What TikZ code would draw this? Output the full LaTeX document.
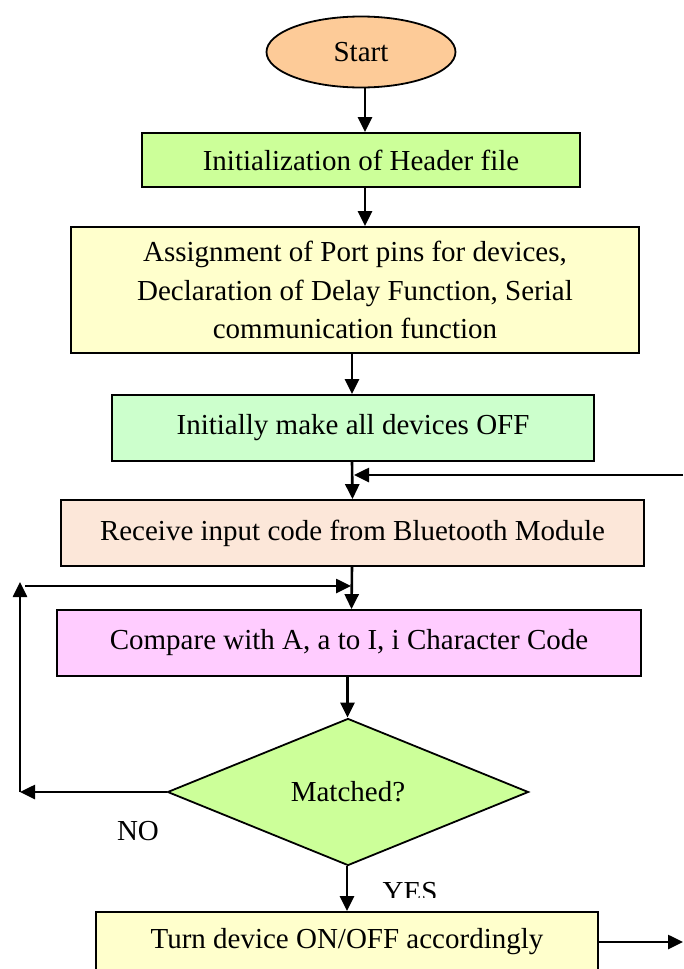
\documentclass[tikz,border=0pt]{standalone}
\usepackage{fontspec}
\setmainfont{Liberation Serif}
\usetikzlibrary{shapes.geometric,arrows.meta}
\definecolor{cstart}{HTML}{FDCB98}
\definecolor{cgreen}{HTML}{CCFF99}
\definecolor{cyellow}{HTML}{FFFFCC}
\definecolor{cmint}{HTML}{CCFFCC}
\definecolor{cpeach}{HTML}{FCE7D9}
\definecolor{cpink}{HTML}{FFCCFF}
\begin{document}
\begin{tikzpicture}[x=1pt,y=-1pt,
  txt/.style={font=\fontsize{29}{38.5}\selectfont},
  box/.style={draw, line width=1.8pt, rectangle, align=center, inner sep=0pt, txt},
  arr/.style={line width=2.6pt, -{Triangle[length=15pt,width=14pt]}},
  ln/.style={line width=2.6pt}]
\useasboundingbox (0,0) rectangle (683,969);
\clip (0,0) rectangle (683,969);

\node[draw, line width=1.8pt, ellipse, fill=cstart, minimum width=189pt, minimum height=71pt, inner sep=0pt, txt] (start) at (361,52) {Start};
\node[box, fill=cgreen, minimum width=438pt, minimum height=54pt] (b1) at (361,160) {Initialization of Header file};
\node[box, fill=cyellow, minimum width=568pt, minimum height=126pt] (b2) at (355,290) {Assignment of Port pins for devices,\\Declaration of Delay Function, Serial\\communication function};
\node[box, fill=cmint, minimum width=482pt, minimum height=66pt] (b3) at (353,428) {Initially make all devices OFF};
\node[box, fill=cpeach, minimum width=583pt, minimum height=66pt] (b4) at (352.5,533) {Receive input code from Bluetooth Module};
\node[box, fill=cpink, minimum width=584pt, minimum height=66pt] (b5) at (349,643) {Compare with A, a to I, i Character Code};
\node[draw, line width=1.8pt, diamond, fill=cgreen, minimum width=361pt, minimum height=147pt, inner sep=0pt, txt] (dec) at (348,792) {Matched?};
\node[box, fill=cyellow, minimum width=502pt, minimum height=60pt] (b6) at (347,942) {Turn device ON/OFF accordingly};

\node[txt, anchor=base] (no) at (138,840) {NO};
\begin{scope}
\clip (360,860) rectangle (480,897);
\node[txt, anchor=base] (yes) at (410,901) {YES};
\end{scope}

\coordinate (rin) at (683,475);
\coordinate (rjoin) at (352,475);
\coordinate (lbot) at (20,792);
\coordinate (ltop) at (20,582);
\coordinate (tstart) at (25,586);
\coordinate (tend) at (351,586);
\coordinate (rout) at (683,942);

\draw[arr] ([xshift=4pt]start.south) -- ([xshift=4pt]b1.north);
\draw[arr] ([xshift=4pt]b1.south) -- ([xshift=10pt]b2.north);
\draw[arr] ([xshift=-3pt]b2.south) -- ([xshift=-1pt]b3.north);
\draw[arr] ([xshift=-1pt]b3.south) -- (b4.north);
\draw[arr] (rin) -- ([xshift=2pt]rjoin);
\draw[arr] ([xshift=-0.5pt]b4.south) -- ([xshift=2.5pt]b5.north);
\draw[arr] (tstart) -- (tend);
\draw[arr] ([xshift=-1.5pt]b5.south) -- ([xshift=-0.5pt]dec.north);
\draw[arr] (dec.west) -- (lbot);
\draw[arr] (lbot) -- (ltop);
\draw[arr] ([xshift=-1pt]dec.south) -- ([xshift=0pt]b6.north);
\draw[arr] (b6.east) -- (rout);
\end{tikzpicture}
\end{document}
